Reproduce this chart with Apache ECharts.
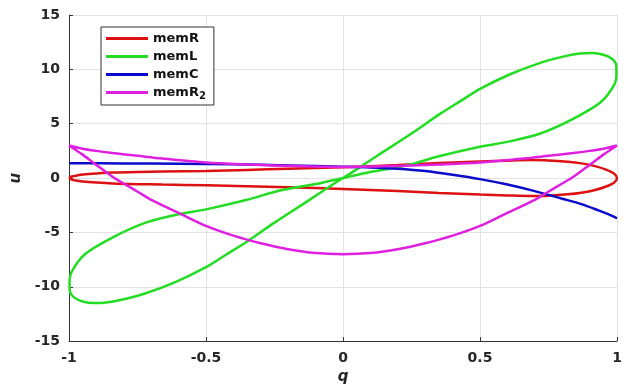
<!DOCTYPE html>
<html>
<head>
<meta charset="utf-8">
<script src="https://cdn.jsdelivr.net/npm/echarts@6/dist/echarts.min.js"></script>
<style>
html,body{margin:0;padding:0;background:#fff;}
#chart{width:630px;height:390px;}
</style>
</head>
<body>
<div id="chart"></div>
<script>
// ---- data ----
const seriesNames = ['memR', 'memL', 'memC', 'memR2'];
const xTicks = [-1, -0.5, 0, 0.5, 1];
const yTicks = [-15, -10, -5, 0, 5, 10, 15];

const memR_q = [-1,-0.99,-0.97,-0.95,-0.9,-0.84,-0.75,-0.66,-0.5,-0.35,-0.2,0,0.2,0.35,0.5,0.6,0.68,0.75,0.82,0.87,0.92,0.96,0.99,1,
                0.99,0.96,0.92,0.87,0.82,0.75,0.68,0.6,0.5,0.35,0.2,0,-0.2,-0.35,-0.5,-0.66,-0.75,-0.84,-0.9,-0.95,-0.97,-0.99,-1];
const memR_u = [0,0.14,0.24,0.32,0.42,0.5,0.56,0.6,0.66,0.75,0.85,1.0,1.2,1.38,1.52,1.6,1.65,1.62,1.5,1.35,1.1,0.78,0.4,0,
                -0.4,-0.78,-1.1,-1.35,-1.5,-1.62,-1.65,-1.6,-1.52,-1.38,-1.2,-1.0,-0.85,-0.75,-0.66,-0.6,-0.56,-0.5,-0.42,-0.32,-0.24,-0.14,0];

const memL_q = [0,0.05,0.125,0.25,0.354,0.43,0.5,0.61,0.72,0.8,0.865,0.91,0.95,0.98,0.997,0.998,0.99,0.94,0.84,0.72,0.6,0.5,0.35,0.23,0.1,
                0,-0.1,-0.23,-0.35,-0.5,-0.6,-0.72,-0.84,-0.94,-0.99,-0.998,-0.997,-0.98,-0.95,-0.91,-0.865,-0.8,-0.72,-0.61,-0.5,-0.43,-0.354,-0.25,-0.125,-0.05,0];
const memL_u = [0,0.8,2.05,4.1,5.9,7.1,8.2,9.55,10.6,11.15,11.45,11.5,11.35,11.0,10.4,9.6,8.6,6.97,5.45,4.1,3.33,2.88,2.0,1.15,0.55,
                0,-0.55,-1.15,-2.0,-2.88,-3.33,-4.1,-5.45,-6.97,-8.6,-9.6,-10.4,-11.0,-11.35,-11.5,-11.45,-11.15,-10.6,-9.55,-8.2,-7.1,-5.9,-4.1,-2.05,-0.8,0];

const memC_q = [-1,-0.8,-0.6,-0.4,-0.2,0,0.1,0.2,0.3,0.4,0.5,0.6,0.7,0.8,0.87,0.93,0.97,1];
const memC_u = [1.36,1.35,1.32,1.26,1.16,1.05,0.98,0.85,0.64,0.3,-0.1,-0.6,-1.2,-1.9,-2.4,-2.95,-3.35,-3.7];

const memR2_q = [-1,-0.95,-0.9,-0.84,-0.75,-0.66,-0.5,-0.35,-0.2,0,0.2,0.35,0.5,0.66,0.75,0.84,0.9,0.95,1,
                 0.953,0.905,0.84,0.8,0.74,0.7,0.6,0.5,0.4,0.3,0.2,0.1,0,-0.1,-0.2,-0.3,-0.4,-0.5,-0.6,-0.7,-0.74,-0.8,-0.84,-0.905,-0.953,-1];
const memR2_u = [3.0,2.7,2.5,2.3,2.05,1.8,1.43,1.25,1.12,1.02,1.12,1.25,1.43,1.8,2.05,2.3,2.5,2.7,3.0,
                 2.2,1.3,0.1,-0.5,-1.4,-2.0,-3.2,-4.4,-5.3,-6.0,-6.55,-6.9,-7.0,-6.9,-6.55,-6.0,-5.3,-4.4,-3.2,-2.0,-1.4,-0.5,0.1,1.3,2.2,3.0];

const colors = ['#dd1111', '#22dd22', '#0a0acc', '#e020e0'];

// ---- chart ----
function zip(a, b) { return a.map((v, i) => [v, b[i]]); }
const dataSets = [zip(memR_q, memR_u), zip(memL_q, memL_u), zip(memC_q, memC_u), zip(memR2_q, memR2_u)];

const chart = echarts.init(document.getElementById('chart'), null, {renderer: 'canvas'});
const font = 'DejaVu Sans';
const option = {
  backgroundColor: '#ffffff',
  animation: false,
  grid: {left: 69, right: 13, top: 15, bottom: 45, containLabel: false},
  legend: {
    data: seriesNames.map(n => ({name: n, icon: 'rect'})),
    orient: 'vertical',
    left: 101, top: 27,
    padding: [4, 8, 4, 5],
    itemGap: 3,
    itemWidth: 42,
    itemHeight: 3,
    backgroundColor: '#ffffff',
    borderColor: '#333333',
    borderWidth: 1,
    textStyle: {
      fontFamily: font, fontWeight: 'bold', fontSize: 13, color: '#111111', lineHeight: 15,
      rich: {
        s: {fontFamily: font, fontWeight: 'bold', fontSize: 10, color: '#111111', padding: [7, 0, 0, 0]}
      }
    },
    formatter: function (name) { return name === 'memR2' ? 'memR{s|2}' : name; }
  },
  xAxis: {
    type: 'value', min: -1, max: 1, interval: 0.5,
    name: 'q', nameLocation: 'middle', nameGap: 27,
    nameTextStyle: {fontFamily: font, fontWeight: 'bold', fontStyle: 'italic', fontSize: 15, color: '#262626'},
    axisLine: {show: true, onZero: false, lineStyle: {color: '#333333', width: 1}},
    axisTick: {show: true, inside: true, length: 4, lineStyle: {color: '#333333'}},
    axisLabel: {fontFamily: font, fontWeight: 'bold', fontSize: 14, color: '#262626', margin: 10,
      formatter: v => String(v)},
    splitLine: {show: true, lineStyle: {color: '#e2e2e2', width: 1}}
  },
  yAxis: {
    type: 'value', min: -15, max: 15, interval: 5,
    name: 'u', nameLocation: 'middle', nameGap: 45, nameRotate: 90,
    nameTextStyle: {fontFamily: font, fontWeight: 'bold', fontStyle: 'italic', fontSize: 15, color: '#262626'},
    axisLine: {show: true, onZero: false, lineStyle: {color: '#333333', width: 1}},
    axisTick: {show: true, inside: true, length: 4, lineStyle: {color: '#333333'}},
    axisLabel: {fontFamily: font, fontWeight: 'bold', fontSize: 14, color: '#262626', margin: 9},
    splitLine: {show: true, lineStyle: {color: '#e2e2e2', width: 1}}
  },
  series: seriesNames.map((n, i) => ({
    name: n,
    type: 'line',
    data: dataSets[i],
    symbol: 'none',
    smooth: 0.3,
    lineStyle: {color: colors[i], width: 2.5},
    itemStyle: {color: colors[i]},
    z: 2 + i
  }))
};
chart.setOption(option);
</script>
</body>
</html>
